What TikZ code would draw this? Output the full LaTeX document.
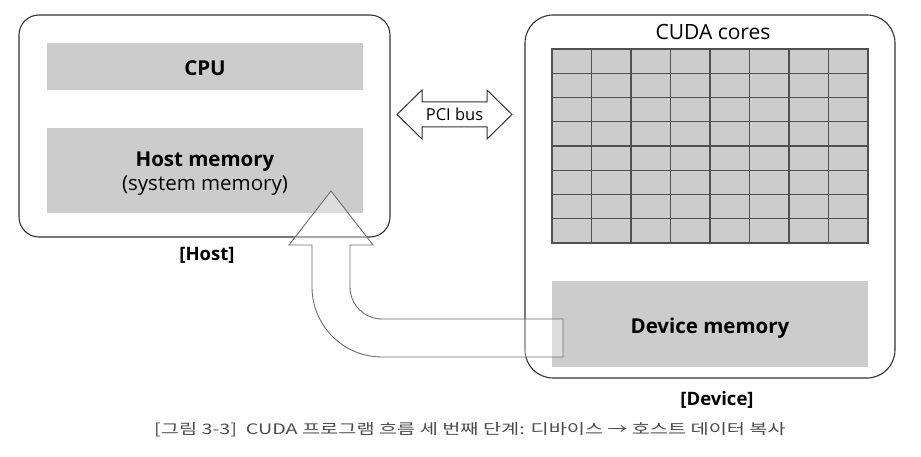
\documentclass[tikz,border=0pt]{standalone}
\usepackage{fontspec}
\setmainfont{Open Sans}
\newfontfamily\krfont[FakeStretch=1.36]{Noto Sans CJK KR}
\definecolor{linedark}{RGB}{50,50,50}
\definecolor{bargray}{RGB}{204,204,204}
\definecolor{gridline}{RGB}{80,80,80}
\definecolor{arrowgray}{RGB}{110,110,110}
\definecolor{captiongray}{RGB}{75,75,75}

\begin{document}
\begin{tikzpicture}[x=1pt, y=-1pt, box/.style={draw=linedark, line width=1.1pt, inner sep=0pt}, bar/.style={fill=bargray, inner sep=0pt}, big/.style={anchor=base, inner sep=0pt, font=\fontsize{20.5}{25}\selectfont}, tag/.style={anchor=base, inner sep=0pt, font=\bfseries\fontsize{18.5}{22}\selectfont}, bus/.style={draw=linedark, line width=1pt, fill=white}, up/.style={draw=arrowgray, line width=0.9pt, fill=white, fill opacity=0.35}]
            \useasboundingbox (0,0) rectangle (921,457);
            % host side
            \node[box, rounded corners=20pt, minimum width=371pt, minimum height=222pt] (host) at (204.5,126) {};
            \node[bar, minimum width=316pt, minimum height=47pt] (cpu) at (205,66.5) {};
            \node[big, font=\bfseries\fontsize{20.5}{25}\selectfont] (cpulbl) at (205,76) {CPU};
            \node[bar, minimum width=316pt, minimum height=85pt] (hostmem) at (205,170.5) {};
            \node[big, font=\bfseries\fontsize{20.5}{25}\selectfont] (hostmemlbl) at (205,166.5) {Host memory};
            \node[big] (sysmemlbl) at (205,191) {(system memory)};
            \node[tag] (hostlbl) at (207,260) {[Host]};
            % device side
            \node[box, rounded corners=28pt, minimum width=370pt, minimum height=363pt] (dev) at (710,196.5) {};
            \node[big, font=\fontsize{21}{25}\selectfont] (coreslbl) at (713,40) {CUDA cores};
            \node[bar, draw=gridline, line width=1.4pt, minimum width=316pt, minimum height=194pt] (cores) at (710,146) {};
            \foreach \i in {1,...,7} {
                \draw[gridline, line width=1.4pt] (552+39.5*\i,49) -- (552+39.5*\i,243);
                \draw[gridline, line width=1.4pt] (552,49+24.25*\i) -- (868,49+24.25*\i);
            }
            \node[bar, minimum width=316pt, minimum height=86pt] (devmem) at (710,324) {};
            \node[big, font=\bfseries\fontsize{20.5}{25}\selectfont] (devmemlbl) at (710,333) {Device memory};
            \node[tag] (devlbl) at (717,405.5) {[Device]};
            % PCI bus
            \draw[bus] (397,114.5) -- (422,90) -- (422,102) -- (487,102) -- (487,90) -- (512,114.5) -- (487,139) -- (487,127) -- (422,127) -- (422,139) -- cycle;
            \node[anchor=base, inner sep=0pt, font=\fontsize{16.5}{20}\selectfont] (pci) at (454.5,121) {PCI bus};
            % copy back
            \draw[up] (331,191) -- (373,245) -- (350,245) -- (350,287) arc[start angle=180, end angle=90, radius=32] -- (563,319) -- (563,357) -- (382,357) arc[start angle=90, end angle=180, radius=70] -- (312,245) -- (289,245) -- cycle;
            % caption
            \node[anchor=base, inner sep=0pt, font=\krfont\fontsize{14.5}{18}\selectfont, text=captiongray] (cap) at (470,434) {[그림 3-3]\ \ CUDA 프로그램 흐름 세 번째 단계: 디바이스 → 호스트 데이터 복사};
        \end{tikzpicture}
\end{document}
